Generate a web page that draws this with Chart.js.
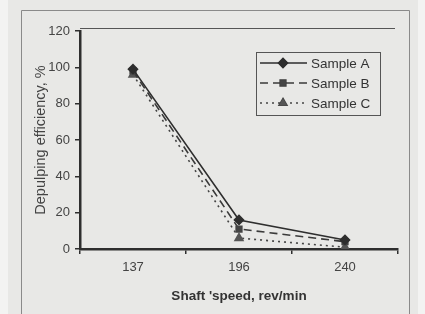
<!DOCTYPE html>
<html>
<head>
<meta charset="utf-8">
<script src="https://cdn.jsdelivr.net/npm/chart.js@4.4.0/dist/chart.umd.min.js"></script>
<style>
  html, body { margin: 0; padding: 0; background: #f3f3f2; }
  #wrap { width: 425px; height: 314px; }
</style>
</head>
<body>
<div id="wrap"><canvas id="chart" width="425" height="314"></canvas></div>
<script>
// shaft speeds (rev/min)
const speeds = ['137', '196', '240'];

// depulping efficiency, %
const sampleA = [99, 16, 5];
const sampleB = [98, 11, 4];
const sampleC = [96, 6, 1];

const yTicks = [0, 20, 40, 60, 80, 100, 120];

const ink = '#2e2e2e';

// paper background + frame around the figure
const paperPlugin = {
    id: 'paper',
    beforeDraw(chart) {
        const ctx = chart.ctx;
        ctx.save();
        ctx.fillStyle = '#f3f3f2';
        ctx.fillRect(0, 0, chart.width, chart.height);
        ctx.fillStyle = '#e8e8e6';
        ctx.fillRect(8, 0, 410, chart.height);
        ctx.strokeStyle = '#8a8a8a';
        ctx.lineWidth = 1;
        ctx.beginPath();
        ctx.moveTo(21.5, chart.height);
        ctx.lineTo(21.5, 10.5);
        ctx.lineTo(409.5, 10.5);
        ctx.lineTo(409.5, chart.height);
        ctx.stroke();
        // top line of plot area
        const a = chart.chartArea;
        ctx.strokeStyle = '#555';
        ctx.beginPath();
        ctx.moveTo(a.left, a.top - 2.5);
        ctx.lineTo(a.right - 3, a.top - 2.5);
        ctx.stroke();
        ctx.restore();
    }
};

// boxed legend inside the plot
const boxLegend = {
    id: 'boxLegend',
    afterDraw(chart) {
        const ctx = chart.ctx;
        const x0 = 256, y0 = 52, w = 124, h = 63;
        ctx.save();
        ctx.strokeStyle = '#555';
        ctx.lineWidth = 1;
        ctx.strokeRect(x0 + 0.5, y0 + 0.5, w, h);
        chart.data.datasets.forEach((ds, i) => {
            const y = y0 + 11 + i * 20;
            ctx.strokeStyle = ds.borderColor;
            ctx.lineWidth = ds.borderWidth;
            ctx.setLineDash(ds.borderDash || []);
            ctx.beginPath();
            ctx.moveTo(x0 + 4, y);
            ctx.lineTo(x0 + 51, y);
            ctx.stroke();
            ctx.setLineDash([]);
            Chart.helpers.drawPoint(ctx, {
                pointStyle: ds.pointStyle,
                radius: ds.pointRadius,
                rotation: 0,
                borderWidth: 1
            }, x0 + 27, y);
            ctx.fillStyle = ds.pointBackgroundColor;
            ctx.fill();
            ctx.fillStyle = '#333';
            ctx.font = '13.5px "Liberation Sans", Arial, sans-serif';
            ctx.textBaseline = 'middle';
            ctx.fillText(ds.label, x0 + 55, y + 1);
        });
        ctx.restore();
    }
};

new Chart(document.getElementById('chart'), {
    type: 'line',
    data: {
        labels: speeds,
        datasets: [
            {
                label: 'Sample A',
                data: sampleA,
                borderColor: ink,
                borderWidth: 1.6,
                pointStyle: 'rectRot',
                pointRadius: 4.5,
                pointBackgroundColor: ink,
                pointBorderColor: ink
            },
            {
                label: 'Sample B',
                data: sampleB,
                borderColor: '#3a3a3a',
                borderWidth: 1.6,
                borderDash: [8, 5],
                pointStyle: 'rect',
                pointRadius: 4,
                pointBackgroundColor: '#444',
                pointBorderColor: '#444'
            },
            {
                label: 'Sample C',
                data: sampleC,
                borderColor: '#444',
                borderWidth: 1.6,
                borderDash: [2, 4],
                pointStyle: 'triangle',
                pointRadius: 4.5,
                pointBackgroundColor: '#555',
                pointBorderColor: '#555'
            }
        ]
    },
    options: {
        responsive: false,
        animation: false,
        layout: { padding: { top: 31, right: 27, left: 0, bottom: 0 } },
        plugins: {
            legend: { display: false },
            tooltip: { enabled: false }
        },
        scales: {
            x: {
                type: 'category',
                offset: true,
                afterFit(scale) { scale.height = 65; },
                grid: {
                    offset: true,
                    drawOnChartArea: false,
                    drawTicks: true,
                    tickLength: 5,
                    color: ink,
                    lineWidth: 1.5
                },
                border: { color: ink, width: 2.5 },
                ticks: {
                    color: '#444',
                    padding: 6,
                    font: { family: '"Liberation Sans", Arial, sans-serif', size: 13 }
                },
                title: {
                    display: true,
                    text: "Shaft 'speed, rev/min",
                    color: '#333',
                    padding: { top: 10, bottom: 10 },
                    font: { family: '"Liberation Sans", Arial, sans-serif', size: 13.5, weight: 'bold' }
                }
            },
            y: {
                min: 0,
                max: 120,
                afterFit(scale) { scale.width = 80; },
                afterBuildTicks(scale) { scale.ticks = yTicks.map(v => ({ value: v })); },
                grid: {
                    drawOnChartArea: false,
                    drawTicks: true,
                    tickLength: 5,
                    color: ink,
                    lineWidth: 1.5
                },
                border: { color: ink, width: 2.5 },
                ticks: {
                    color: '#444',
                    padding: 5,
                    font: { family: '"Liberation Sans", Arial, sans-serif', size: 13 }
                },
                title: {
                    display: true,
                    text: 'Depulping efficiency, %',
                    color: '#444',
                    padding: { top: 32, bottom: 32 },
                    font: { family: '"Liberation Sans", Arial, sans-serif', size: 14.5 }
                }
            }
        }
    },
    plugins: [paperPlugin, boxLegend]
});
</script>
</body>
</html>
